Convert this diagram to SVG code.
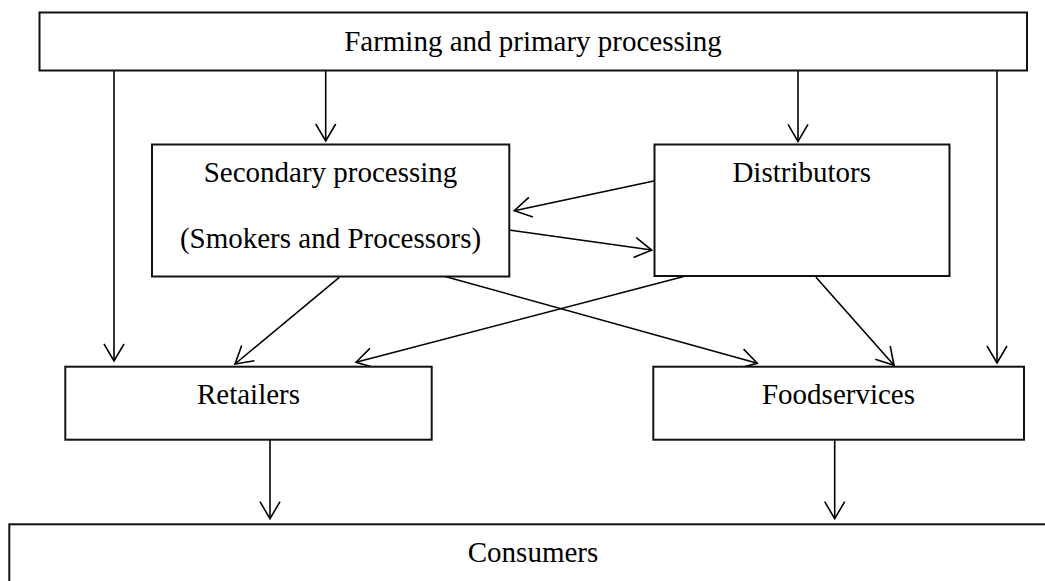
<svg xmlns="http://www.w3.org/2000/svg" width="1045" height="581" viewBox="0 0 1045 581">
<style>
.box{fill:#fff;stroke:#111;stroke-width:2}
.lbl{font-family:"Liberation Serif","Times New Roman",serif;font-size:29px;fill:#000;text-anchor:middle}
.c{stroke:#000;stroke-width:1.6;fill:none;marker-end:url(#ah)}
</style>
<defs>
<marker id="ah" markerUnits="userSpaceOnUse" viewBox="-20 -12 22 24" refX="0" refY="0" markerWidth="22" markerHeight="24" orient="auto" overflow="visible">
<path d="M-17,-10 L0,0 L-17,10" fill="none" stroke="#000" stroke-width="1.6"/>
</marker>
</defs>
<rect width="1045" height="581" fill="#fff"/>
<g id="connectors">
<line class="c" x1="114" y1="71" x2="114" y2="361"/>
<line class="c" x1="325.7" y1="71" x2="325.7" y2="141"/>
<line class="c" x1="798" y1="71" x2="798" y2="141.3"/>
<line class="c" x1="997" y1="71" x2="997" y2="363"/>
<line class="c" x1="655" y1="180.7" x2="514.3" y2="210.7"/>
<line class="c" x1="509" y1="230" x2="651.7" y2="250"/>
<line class="c" x1="339.3" y1="277.3" x2="235" y2="364"/>
<line class="c" x1="443.3" y1="276" x2="757.3" y2="363.3"/>
<line class="c" x1="685.7" y1="276" x2="356" y2="362.3"/>
<line class="c" x1="816" y1="277.3" x2="894" y2="365.3"/>
<line class="c" x1="270" y1="440" x2="270" y2="518.7"/>
<line class="c" x1="834.7" y1="440" x2="834.7" y2="518.7"/>
</g>
<g id="farming">
<rect class="box" x="39.5" y="12.5" width="987.5" height="58"/>
<text class="lbl" x="533" y="51">Farming and primary processing</text>
</g>
<g id="secondary">
<rect class="box" x="152" y="144.5" width="357.3" height="132"/>
<text class="lbl" x="330.5" y="181.7">Secondary processing</text>
<text class="lbl" x="330.5" y="248.3">(Smokers and Processors)</text>
</g>
<g id="distributors">
<rect class="box" x="654.5" y="144.5" width="295" height="131.5"/>
<text class="lbl" x="801.7" y="181.7">Distributors</text>
</g>
<g id="retailers">
<rect class="box" x="65.3" y="366.7" width="366.4" height="73"/>
<text class="lbl" x="248.5" y="404">Retailers</text>
</g>
<g id="foodservices">
<rect class="box" x="653.3" y="366.7" width="370.7" height="73"/>
<text class="lbl" x="838.5" y="404">Foodservices</text>
</g>
<g id="consumers">
<rect class="box" x="9.3" y="524.3" width="1048" height="80"/>
<text class="lbl" x="533" y="561.7">Consumers</text>
</g>
</svg>
